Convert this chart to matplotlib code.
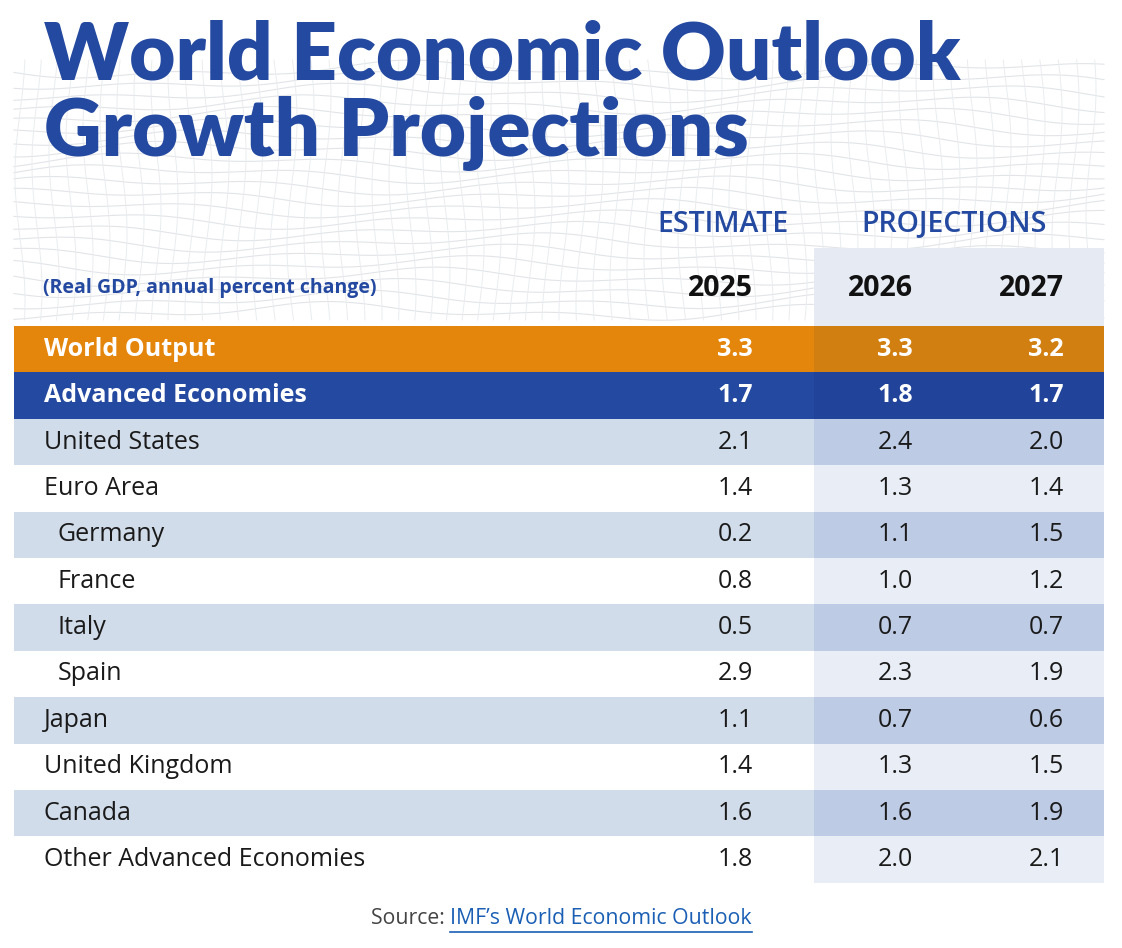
import numpy as np
import matplotlib.pyplot as plt
from matplotlib.patches import Rectangle

# table content
row_labels = ["World Output", "Advanced Economies", "United States", "Euro Area",
              "Germany", "France", "Italy", "Spain", "Japan", "United Kingdom",
              "Canada", "Other Advanced Economies"]
indented = ["Germany", "France", "Italy", "Spain"]
years = ["2025", "2026", "2027"]
vals_2025 = [3.3, 1.7, 2.1, 1.4, 0.2, 0.8, 0.5, 2.9, 1.1, 1.4, 1.6, 1.8]
vals_2026 = [3.3, 1.8, 2.4, 1.3, 1.1, 1.0, 0.7, 2.3, 0.7, 1.3, 1.6, 2.0]
vals_2027 = [3.2, 1.7, 2.0, 1.4, 1.5, 1.2, 0.7, 1.9, 0.6, 1.5, 1.9, 2.1]

BLUE = "#2449a0"
TFONT = ["Lato", "DejaVu Sans"]
BFONT = ["Open Sans", "DejaVu Sans"]

fig = plt.figure(figsize=(11.22, 9.48), dpi=100)
ax = fig.add_axes([0, 0, 1, 1])
ax.set_xlim(0, 1122)
ax.set_ylim(948, 0)
ax.axis("off")

# faint wavy mesh behind the header
xs = np.linspace(14, 1104, 200)
for k in range(22):
    y0 = 70 + k * 11.5
    ys = y0 + 6 * np.sin(xs / 90 + k * 0.35) + 4 * np.sin(xs / 37 + k)
    ax.plot(xs, ys, color="#e2e4e8", lw=0.8, zorder=0)
for xv in np.arange(20, 1104, 17):
    yy = np.linspace(60, 320, 60)
    xx = xv + 5 * np.sin(yy / 40 + xv / 60)
    ax.plot(xx, yy, color="#eaecef", lw=0.7, zorder=0)

# title
ax.text(44, 79, "World Economic Outlook", fontsize=57.5, fontweight="heavy",
        color=BLUE, family=TFONT, va="baseline", ha="left", zorder=3)
ax.text(44, 156, "Growth Projections", fontsize=57.5, fontweight="heavy",
        color=BLUE, family=TFONT, va="baseline", ha="left", zorder=3)

# geometry
top, row_h = 326, 46.4
left, right = 14, 1104
proj_left = 814
col_right = [753, 913, 1064]

# projection column backdrop
ax.add_patch(Rectangle((proj_left, 248), right - proj_left, top - 248,
                       facecolor="#e6ebf3", edgecolor="none", zorder=1))

ax.text(723, 224, "ESTIMATE", fontsize=20.5, color=BLUE, family=BFONT,
        fontweight="semibold", ha="center", va="center", zorder=3)
ax.text(954, 224, "PROJECTIONS", fontsize=20.5, color=BLUE, family=BFONT,
        fontweight="semibold", ha="center", va="center", zorder=3)
ax.text(43, 288, "(Real GDP, annual percent change)", fontsize=14,
        color=BLUE, family=BFONT, fontweight="bold", ha="left", va="center", zorder=3)
for yr, xr in zip(years, col_right):
    ax.text(xr, 289, yr, fontsize=20.5, fontweight="bold", color="#111111",
            family=BFONT, ha="right", va="center", zorder=3)

fills = {"orange": ("#e5860c", "#d27f12"), "blue": ("#2449a0", "#22439a"),
         "light": ("#d1dcea", "#bdcbe4"), "white": ("#ffffff", "#e9eef6")}

values = list(zip(vals_2025, vals_2026, vals_2027))
for i, (lab, v) in enumerate(zip(row_labels, values)):
    y = top + i * row_h
    if i == 0:
        kind = "orange"
    elif i == 1:
        kind = "blue"
    else:
        kind = "light" if i % 2 == 0 else "white"
    c1, c2 = fills[kind]
    ax.add_patch(Rectangle((left, y), proj_left - left, row_h,
                           facecolor=c1, edgecolor="none", zorder=1))
    ax.add_patch(Rectangle((proj_left, y), right - proj_left, row_h,
                           facecolor=c2, edgecolor="none", zorder=1))
    header_row = i < 2
    tcolor = "white" if header_row else "#1a1a1a"
    weight = "bold" if header_row else "normal"
    x_lab = 58 if lab in indented else 44
    yc = y + row_h / 2
    ax.text(x_lab, yc, lab, fontsize=18, color=tcolor, fontweight=weight,
            family=BFONT, ha="left", va="center", zorder=3)
    for val, xr in zip(v, col_right):
        ax.text(xr, yc, f"{val:.1f}", fontsize=18, color=tcolor,
                fontweight=weight, family=BFONT, ha="right", va="center",
                zorder=3)

# source line
src = ax.text(371, 919, "Source: ", fontsize=15.3, color="#444444",
              family=BFONT, ha="left", va="center")
fig.canvas.draw()
bb = src.get_window_extent()
x_link = ax.transData.inverted().transform((bb.x1, bb.y0))[0]
link = ax.text(x_link, 919, "IMF\u2019s World Economic Outlook", fontsize=15.3,
               color="#1a5fb4", family=BFONT, ha="left", va="center")
fig.canvas.draw()
lb = link.get_window_extent()
x0, x1 = ax.transData.inverted().transform([(lb.x0, 0), (lb.x1, 0)])[:, 0]
ax.plot([x0, x1], [932, 932], color="#1a5fb4", lw=1.2)

fig.savefig("out.png", dpi=100)
